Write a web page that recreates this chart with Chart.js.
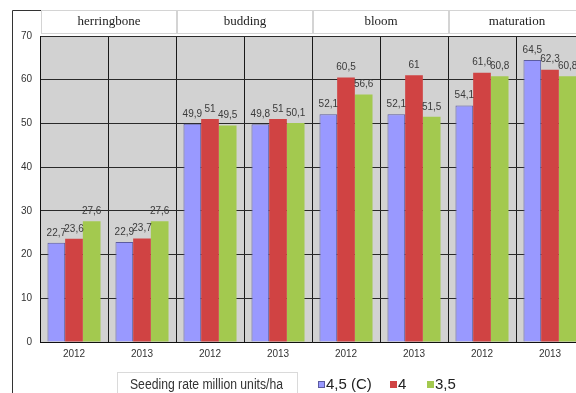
<!DOCTYPE html>
<html>
<head>
<meta charset="utf-8">
<title>Seeding rate</title>
<script src="https://cdn.jsdelivr.net/npm/chart.js@4.4.1/dist/chart.umd.min.js"></script>
<style>
  html, body { margin: 0; padding: 0; background: #fff; overflow: hidden; }
  #wrap { position: relative; width: 600px; height: 393px; }
</style>
</head>
<body>
<div id="wrap"><canvas id="chart" width="600" height="393"></canvas></div>
<script>
'use strict'

/* global Chart */

const years = ['2012', '2013', '2012', '2013', '2012', '2013', '2012', '2013']
const stages = ['herringbone', 'budding', 'bloom', 'maturation']
const seriesNames = ['4,5 (C)', '4', '3,5']
const rate45 = [22.7, 22.9, 49.9, 49.8, 52.1, 52.1, 54.1, 64.5]
const rate4 = [23.6, 23.7, 51, 51, 60.5, 61, 61.6, 62.3]
const rate35 = [27.6, 27.6, 49.5, 50.1, 56.6, 51.5, 60.8, 60.8]
const legendTitle = 'Seeding rate million units/ha'

const blue = '#9999ff'
const red = '#d04343'
const green = '#a3c94f'

const fmt = (v) => String(v).replace('.', ',')

const decor = {
  id: 'decor',
  beforeDraw (chart) {
    const { ctx, chartArea: a } = chart
    ctx.save()
    ctx.fillStyle = '#d2d2d2'
    ctx.fillRect(a.left, a.top, a.right - a.left, a.bottom - a.top)
    ctx.restore()
  },
  afterDatasetsDraw (chart) {
    const ctx = chart.ctx
    ctx.save()
    ctx.font = '10px "Liberation Sans", Arial, sans-serif'
    ctx.fillStyle = '#3a3a3a'
    ctx.textAlign = 'center'
    ctx.textBaseline = 'bottom'
    chart.data.datasets.forEach((ds, i) => {
      chart.getDatasetMeta(i).data.forEach((bar, j) => {
        ctx.fillText(fmt(ds.data[j]), bar.x, bar.y - 5)
      })
    })
    ctx.restore()
  },
  afterDraw (chart) {
    const { ctx, scales: { x } } = chart
    const catW = x.getPixelForValue(1) - x.getPixelForValue(0)
    ctx.save()

    // outer frame
    ctx.strokeStyle = '#333'
    ctx.lineWidth = 1
    ctx.beginPath()
    ctx.moveTo(12.5, 393)
    ctx.lineTo(12.5, 10.5)
    ctx.lineTo(41, 10.5)
    ctx.stroke()

    // stage header cells
    ctx.font = '13px "Liberation Serif", "Times New Roman", serif'
    ctx.textAlign = 'center'
    ctx.textBaseline = 'middle'
    stages.forEach((s, i) => {
      const l = Math.round(x.getPixelForValue(i * 2) - catW / 2) + 1.5
      const r = Math.round(x.getPixelForValue(i * 2 + 1) + catW / 2) + 0.5
      ctx.fillStyle = '#fff'
      ctx.fillRect(l, 10.5, r - l, 23)
      ctx.strokeStyle = '#d4d4d4'
      ctx.strokeRect(l, 10.5, r - l, 23)
      ctx.fillStyle = '#222'
      ctx.fillText(s, (l + r) / 2, 22)
    })

    // legend
    ctx.strokeStyle = '#dadada'
    ctx.strokeRect(117.5, 372.5, 180, 30)
    ctx.fillStyle = '#333'
    ctx.font = '14px "Liberation Sans Narrow", "Liberation Sans", sans-serif'
    ctx.textAlign = 'left'
    ctx.fillText(legendTitle, 130, 385, 153)

    const itemX = [318, 390, 427]
    ctx.font = '15px "Liberation Sans", Arial, sans-serif'
    chart.data.datasets.forEach((ds, i) => {
      ctx.fillStyle = ds.backgroundColor
      ctx.fillRect(itemX[i], 381, 7, 7)
      if (ds.borderWidth) {
        ctx.strokeStyle = ds.borderColor
        ctx.strokeRect(itemX[i] + 0.5, 381.5, 6, 6)
      }
      ctx.fillStyle = '#222'
      ctx.fillText(ds.label, itemX[i] + 8, 385)
    })
    ctx.restore()
  }
}

const ctx = document.getElementById('chart')

const chart = new Chart(ctx, {
  type: 'bar',
  data: {
    labels: years,
    datasets: [{
      label: seriesNames[0],
      data: rate45,
      backgroundColor: blue,
      borderColor: '#5c5ca0',
      borderWidth: 1
    }, {
      label: seriesNames[1],
      data: rate4,
      backgroundColor: red,
      borderWidth: 0
    }, {
      label: seriesNames[2],
      data: rate35,
      backgroundColor: green,
      borderWidth: 0
    }]
  },
  options: {
    responsive: false,
    animation: false,
    layout: {
      padding: { left: 0, top: 36, right: 16, bottom: 0 }
    },
    datasets: {
      bar: {
        categoryPercentage: 0.78,
        barPercentage: 1
      }
    },
    plugins: {
      legend: { display: false },
      tooltip: { enabled: false }
    },
    scales: {
      x: {
        grid: { color: '#1a1a1a', drawTicks: false, offset: true },
        border: { color: '#111', width: 1 },
        ticks: {
          color: '#333',
          padding: 6,
          font: { family: '"Liberation Sans", Arial, sans-serif', size: 10 }
        },
        afterFit (scale) { scale.height = 51 }
      },
      y: {
        min: 0,
        max: 70,
        grid: { color: '#2a2a2a', drawTicks: false },
        border: { color: '#111', width: 1 },
        ticks: {
          stepSize: 10,
          color: '#333',
          padding: 8,
          font: { family: '"Liberation Sans", Arial, sans-serif', size: 10 }
        },
        afterFit (scale) { scale.width = 40 }
      }
    }
  },
  plugins: [decor]
})
</script>
</body>
</html>
